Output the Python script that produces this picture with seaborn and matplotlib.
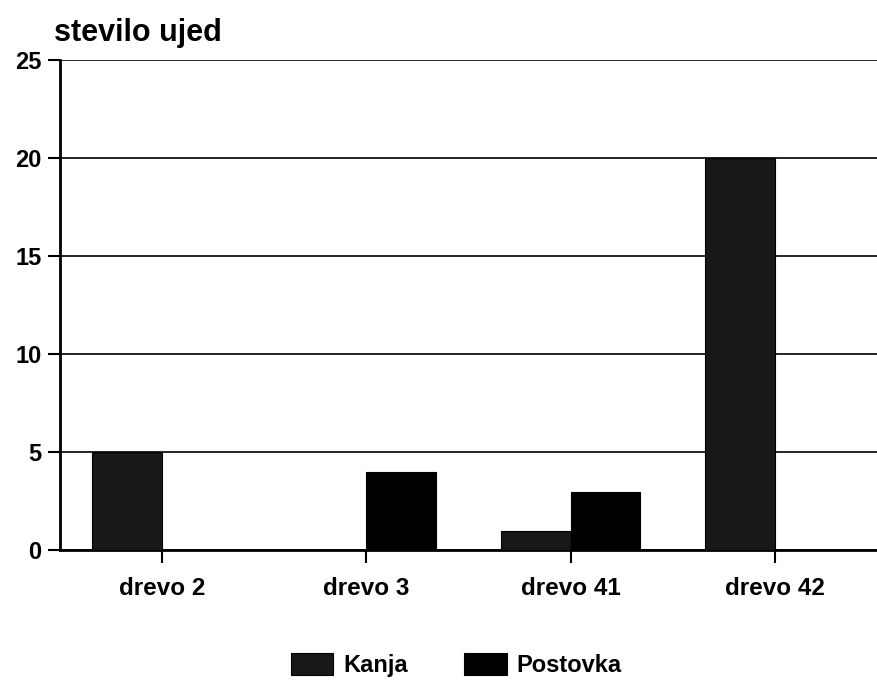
import pandas as pd
import matplotlib
matplotlib.use("Agg")
import matplotlib.pyplot as plt
import seaborn as sns

# ---------------------------------------------------------
# DATA
# ---------------------------------------------------------
trees = ["drevo 2", "drevo 3", "drevo 41", "drevo 42"]
kanja = [5, 0, 1, 20]
postovka = [0, 4, 3, 0]
series = ["Kanja", "Postovka"]
colors = ["#181818", "#000000"]
y_ticks = [0, 5, 10, 15, 20, 25]

df = pd.DataFrame({
    "drevo": trees * 2,
    "vrsta": [series[0]] * len(trees) + [series[1]] * len(trees),
    "stevilo": kanja + postovka,
})

# ---------------------------------------------------------
# PLOT
# ---------------------------------------------------------
sns.set_style("white")
plt.rcParams["font.family"] = ["Liberation Sans", "DejaVu Sans"]
plt.rcParams["font.weight"] = "bold"
plt.rcParams["text.color"] = "black"
plt.rcParams["xtick.color"] = "black"
plt.rcParams["ytick.color"] = "black"

fig = plt.figure(figsize=(8.78, 6.88), dpi=100)
ax = fig.add_axes([0.068, 0.2, 0.931, 0.713])

sns.barplot(data=df, x="drevo", y="stevilo", hue="vrsta", palette=colors,
            width=0.68, saturation=1, edgecolor="black", linewidth=0.8,
            ax=ax, zorder=3)

ax.set_ylim(0, 25)
ax.set_yticks(y_ticks)
ax.yaxis.grid(True, color="black", linewidth=1.2, zorder=0)
ax.set_xlabel("")
ax.set_ylabel("")

for side in ["top", "right"]:
    ax.spines[side].set_visible(False)
for side in ["left", "bottom"]:
    ax.spines[side].set_color("black")
    ax.spines[side].set_linewidth(2)

ax.tick_params(axis="y", which="major", left=True, length=9, width=1.5,
               labelsize=17, pad=4, color="black", labelcolor="black")
ax.tick_params(axis="x", which="major", bottom=True, length=9, width=1.5,
               labelsize=17.5, pad=10, color="black", labelcolor="black")

fig.text(0.062, 0.952, "stevilo ujed", fontsize=22, fontweight="heavy",
         ha="left", va="center", color="black")

leg = ax.legend(loc="upper center", bbox_to_anchor=(0.485, -0.165), ncol=2,
                frameon=False, fontsize=17, handlelength=1.8, handleheight=1.1,
                columnspacing=2.4, handletextpad=0.4)
for t in leg.get_texts():
    t.set_color("black")

fig.savefig("out.png", dpi=100)
